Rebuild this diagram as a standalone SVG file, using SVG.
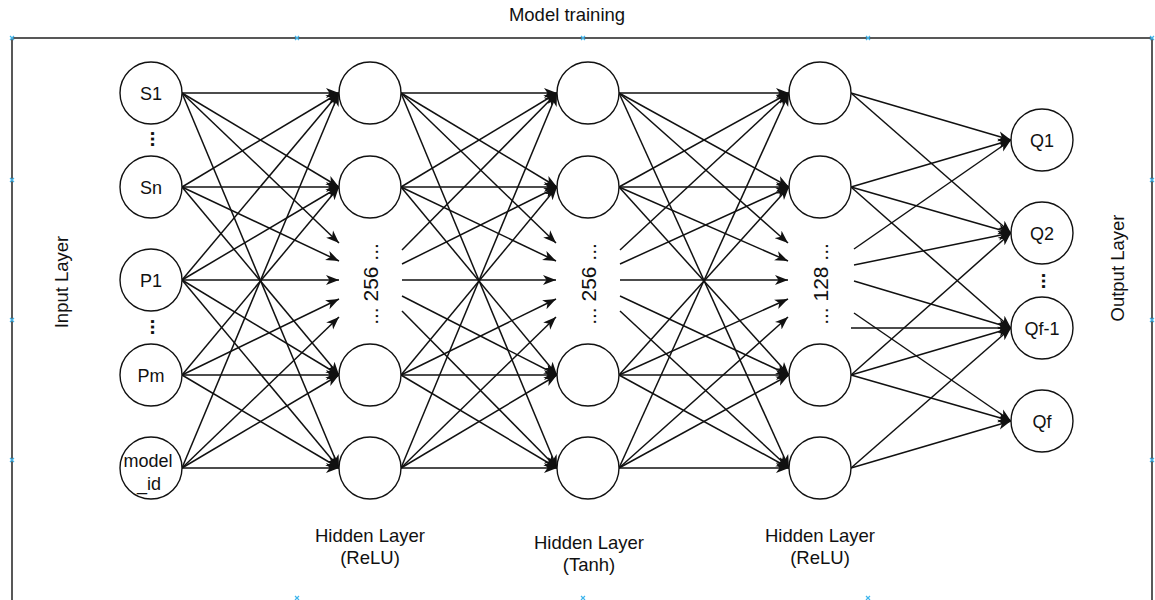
<svg xmlns="http://www.w3.org/2000/svg" width="1155" height="600" viewBox="0 0 1155 600">
  <style>
    .frame { fill: none; stroke: #222; stroke-width: 1.5; }
    .node { fill: #fff; stroke: #111; stroke-width: 1.4; }
    .e { stroke: #111; stroke-width: 1.5; fill: none; marker-end: url(#arrow); }
    .lbl { font-family: "Liberation Sans", Arial, sans-serif; font-size: 18px; fill: #111; text-anchor: middle; }
    .title { font-family: "Liberation Sans", Arial, sans-serif; font-size: 18.5px; fill: #111; text-anchor: middle; }
    .cap { font-family: "Liberation Sans", Arial, sans-serif; font-size: 18.5px; fill: #111; text-anchor: middle; }
    .mid { font-family: "Liberation Sans", Arial, sans-serif; font-size: 21px; fill: #111; text-anchor: middle; }
    .dots { font-family: "Liberation Sans", Arial, sans-serif; font-size: 20px; font-weight: bold; fill: #111; text-anchor: middle; }
    .handle { stroke: #3fb5ec; stroke-width: 1.2; fill: none; }
  </style>
  <defs>
    <marker id="arrow" markerUnits="userSpaceOnUse" markerWidth="15" markerHeight="12" refX="13" refY="6" orient="auto">
      <path d="M0,1 L13,6 L0,11 L3.5,6 Z" fill="#111"/>
    </marker>
  </defs>

  <rect width="1155" height="600" fill="#fff"/>

  <!-- outer container -->
  <g id="container">
    <rect class="frame" x="12" y="38" width="1140" height="564"/>
    <text class="title" x="567" y="21">Model training</text>
    <text class="title" transform="rotate(-90 68 282)" x="68" y="282">Input Layer</text>
    <text class="title" transform="rotate(-90 1124 268)" x="1124" y="268">Output Layer</text>
  </g>

  <!-- container connection handles -->
  <g id="handles" class="handle">
    <path d="M10,36 l4,4 m0,-4 l-4,4"/>
    <path d="M295,36 l4,4 m0,-4 l-4,4"/>
    <path d="M581,36 l4,4 m0,-4 l-4,4"/>
    <path d="M866,36 l4,4 m0,-4 l-4,4"/>
    <path d="M1150,36 l4,4 m0,-4 l-4,4"/>
    <path d="M10,178 l4,4 m0,-4 l-4,4"/>
    <path d="M10,318 l4,4 m0,-4 l-4,4"/>
    <path d="M10,458 l4,4 m0,-4 l-4,4"/>
    <path d="M1150,178 l4,4 m0,-4 l-4,4"/>
    <path d="M1150,318 l4,4 m0,-4 l-4,4"/>
    <path d="M1150,458 l4,4 m0,-4 l-4,4"/>
    <path d="M295,596 l4,4 m0,-4 l-4,4"/>
    <path d="M581,596 l4,4 m0,-4 l-4,4"/>
    <path d="M866,596 l4,4 m0,-4 l-4,4"/>
  </g>

  <!-- connectors -->
  <g id="connectors">
    <!-- input -> hidden 1 -->
    <line class="e" x1="182" y1="93" x2="339" y2="93"/>
    <line class="e" x1="182" y1="93" x2="339" y2="187"/>
    <line class="e" x1="182" y1="93" x2="339" y2="243"/>
    <line class="e" x1="182" y1="93" x2="339" y2="468"/>
    <line class="e" x1="182" y1="187" x2="339" y2="93"/>
    <line class="e" x1="182" y1="187" x2="339" y2="187"/>
    <line class="e" x1="182" y1="187" x2="339" y2="261"/>
    <line class="e" x1="182" y1="187" x2="339" y2="375"/>
    <line class="e" x1="182" y1="280" x2="339" y2="93"/>
    <line class="e" x1="182" y1="280" x2="339" y2="187"/>
    <line class="e" x1="182" y1="280" x2="339" y2="280"/>
    <line class="e" x1="182" y1="280" x2="339" y2="375"/>
    <line class="e" x1="182" y1="280" x2="339" y2="468"/>
    <line class="e" x1="182" y1="375" x2="339" y2="187"/>
    <line class="e" x1="182" y1="375" x2="339" y2="299"/>
    <line class="e" x1="182" y1="375" x2="339" y2="375"/>
    <line class="e" x1="182" y1="375" x2="339" y2="468"/>
    <line class="e" x1="182" y1="468" x2="339" y2="93"/>
    <line class="e" x1="182" y1="468" x2="339" y2="317"/>
    <line class="e" x1="182" y1="468" x2="339" y2="375"/>
    <line class="e" x1="182" y1="468" x2="339" y2="468"/>

    <!-- hidden 1 -> hidden 2 -->
    <line class="e" x1="401" y1="93" x2="557" y2="93"/>
    <line class="e" x1="401" y1="93" x2="557" y2="187"/>
    <line class="e" x1="401" y1="93" x2="556" y2="243"/>
    <line class="e" x1="401" y1="93" x2="557" y2="468"/>
    <line class="e" x1="401" y1="187" x2="557" y2="93"/>
    <line class="e" x1="401" y1="187" x2="557" y2="187"/>
    <line class="e" x1="401" y1="187" x2="556" y2="261"/>
    <line class="e" x1="401" y1="187" x2="557" y2="375"/>
    <line class="e" x1="402" y1="250" x2="557" y2="93"/>
    <line class="e" x1="402" y1="264" x2="557" y2="187"/>
    <line class="e" x1="402" y1="280" x2="556" y2="280"/>
    <line class="e" x1="402" y1="296" x2="557" y2="375"/>
    <line class="e" x1="402" y1="311" x2="557" y2="468"/>
    <line class="e" x1="401" y1="375" x2="557" y2="187"/>
    <line class="e" x1="401" y1="375" x2="556" y2="299"/>
    <line class="e" x1="401" y1="375" x2="557" y2="375"/>
    <line class="e" x1="401" y1="375" x2="557" y2="468"/>
    <line class="e" x1="401" y1="468" x2="557" y2="93"/>
    <line class="e" x1="401" y1="468" x2="556" y2="317"/>
    <line class="e" x1="401" y1="468" x2="557" y2="375"/>
    <line class="e" x1="401" y1="468" x2="557" y2="468"/>

    <!-- hidden 2 -> hidden 3 -->
    <line class="e" x1="619" y1="93" x2="789" y2="93"/>
    <line class="e" x1="619" y1="93" x2="789" y2="187"/>
    <line class="e" x1="619" y1="93" x2="788" y2="243"/>
    <line class="e" x1="619" y1="93" x2="789" y2="468"/>
    <line class="e" x1="619" y1="187" x2="789" y2="93"/>
    <line class="e" x1="619" y1="187" x2="789" y2="187"/>
    <line class="e" x1="619" y1="187" x2="788" y2="261"/>
    <line class="e" x1="619" y1="187" x2="789" y2="375"/>
    <line class="e" x1="620" y1="250" x2="789" y2="93"/>
    <line class="e" x1="620" y1="264" x2="789" y2="187"/>
    <line class="e" x1="620" y1="280" x2="788" y2="280"/>
    <line class="e" x1="620" y1="296" x2="789" y2="375"/>
    <line class="e" x1="620" y1="311" x2="789" y2="468"/>
    <line class="e" x1="619" y1="375" x2="789" y2="187"/>
    <line class="e" x1="619" y1="375" x2="788" y2="299"/>
    <line class="e" x1="619" y1="375" x2="789" y2="375"/>
    <line class="e" x1="619" y1="375" x2="789" y2="468"/>
    <line class="e" x1="619" y1="468" x2="789" y2="93"/>
    <line class="e" x1="619" y1="468" x2="788" y2="317"/>
    <line class="e" x1="619" y1="468" x2="789" y2="375"/>
    <line class="e" x1="619" y1="468" x2="789" y2="468"/>

    <!-- hidden 3 -> output -->
    <line class="e" x1="851" y1="93" x2="1011" y2="140"/>
    <line class="e" x1="851" y1="93" x2="1011" y2="233"/>
    <line class="e" x1="851" y1="187" x2="1011" y2="140"/>
    <line class="e" x1="851" y1="187" x2="1011" y2="233"/>
    <line class="e" x1="851" y1="187" x2="1011" y2="328"/>
    <line class="e" x1="854" y1="249" x2="1011" y2="140"/>
    <line class="e" x1="854" y1="265" x2="1011" y2="233"/>
    <line class="e" x1="854" y1="281" x2="1011" y2="328"/>
    <line class="e" x1="854" y1="313" x2="1011" y2="421"/>
    <line class="e" x1="851" y1="328" x2="1011" y2="328"/>
    <line class="e" x1="851" y1="375" x2="1011" y2="233"/>
    <line class="e" x1="851" y1="375" x2="1011" y2="328"/>
    <line class="e" x1="851" y1="375" x2="1011" y2="421"/>
    <line class="e" x1="851" y1="468" x2="1011" y2="328"/>
    <line class="e" x1="851" y1="468" x2="1011" y2="421"/>
  </g>

  <!-- input layer -->
  <g id="in-s1"><circle class="node" cx="151" cy="93" r="31"/><text class="lbl" x="151" y="99.5">S1</text></g>
  <g id="in-sn"><circle class="node" cx="151" cy="187" r="31"/><text class="lbl" x="151" y="193.5">Sn</text></g>
  <g id="in-p1"><circle class="node" cx="151" cy="280" r="31"/><text class="lbl" x="151" y="286.5">P1</text></g>
  <g id="in-pm"><circle class="node" cx="151" cy="375" r="31"/><text class="lbl" x="151" y="381.5">Pm</text></g>
  <g id="in-model-id"><circle class="node" cx="151" cy="468" r="31"/><text class="lbl" x="148" y="467">model</text><text class="lbl" x="149" y="490">_id</text></g>
  <g id="in-dots-s"><text class="dots" transform="rotate(90 150.5 139)" x="150.5" y="139">...</text></g>
  <g id="in-dots-p"><text class="dots" transform="rotate(90 150.5 327)" x="150.5" y="327">...</text></g>

  <!-- hidden layer 1 (ReLU) -->
  <g id="h1-1"><circle class="node" cx="370" cy="93" r="31"/></g>
  <g id="h1-2"><circle class="node" cx="370" cy="187" r="31"/></g>
  <g id="h1-mid"><text class="mid" transform="rotate(-90 378 284)" x="378" y="284">... 256 ...</text></g>
  <g id="h1-4"><circle class="node" cx="370" cy="375" r="31"/></g>
  <g id="h1-5"><circle class="node" cx="370" cy="468" r="31"/></g>
  <g id="h1-caption"><text class="cap" x="370" y="542">Hidden Layer</text><text class="cap" x="370" y="564">(ReLU)</text></g>

  <!-- hidden layer 2 (Tanh) -->
  <g id="h2-1"><circle class="node" cx="588" cy="93" r="31"/></g>
  <g id="h2-2"><circle class="node" cx="588" cy="187" r="31"/></g>
  <g id="h2-mid"><text class="mid" transform="rotate(-90 596 284)" x="596" y="284">... 256 ...</text></g>
  <g id="h2-4"><circle class="node" cx="588" cy="375" r="31"/></g>
  <g id="h2-5"><circle class="node" cx="588" cy="468" r="31"/></g>
  <g id="h2-caption"><text class="cap" x="589" y="549">Hidden Layer</text><text class="cap" x="589" y="571">(Tanh)</text></g>

  <!-- hidden layer 3 (ReLU) -->
  <g id="h3-1"><circle class="node" cx="820" cy="93" r="31"/></g>
  <g id="h3-2"><circle class="node" cx="820" cy="187" r="31"/></g>
  <g id="h3-mid"><text class="mid" transform="rotate(-90 828 284)" x="828" y="284">... 128 ...</text></g>
  <g id="h3-4"><circle class="node" cx="820" cy="375" r="31"/></g>
  <g id="h3-5"><circle class="node" cx="820" cy="468" r="31"/></g>
  <g id="h3-caption"><text class="cap" x="820" y="542">Hidden Layer</text><text class="cap" x="820" y="564">(ReLU)</text></g>

  <!-- output layer -->
  <g id="out-q1"><circle class="node" cx="1042" cy="140" r="31"/><text class="lbl" x="1042" y="146.5">Q1</text></g>
  <g id="out-q2"><circle class="node" cx="1042" cy="233" r="31"/><text class="lbl" x="1042" y="239.5">Q2</text></g>
  <g id="out-qf-1"><circle class="node" cx="1042" cy="328" r="31"/><text class="lbl" x="1042" y="334.5">Qf-1</text></g>
  <g id="out-qf"><circle class="node" cx="1042" cy="421" r="31"/><text class="lbl" x="1042" y="427.5">Qf</text></g>
  <g id="out-dots"><text class="dots" transform="rotate(90 1041.5 281)" x="1041.5" y="281">...</text></g>
</svg>
